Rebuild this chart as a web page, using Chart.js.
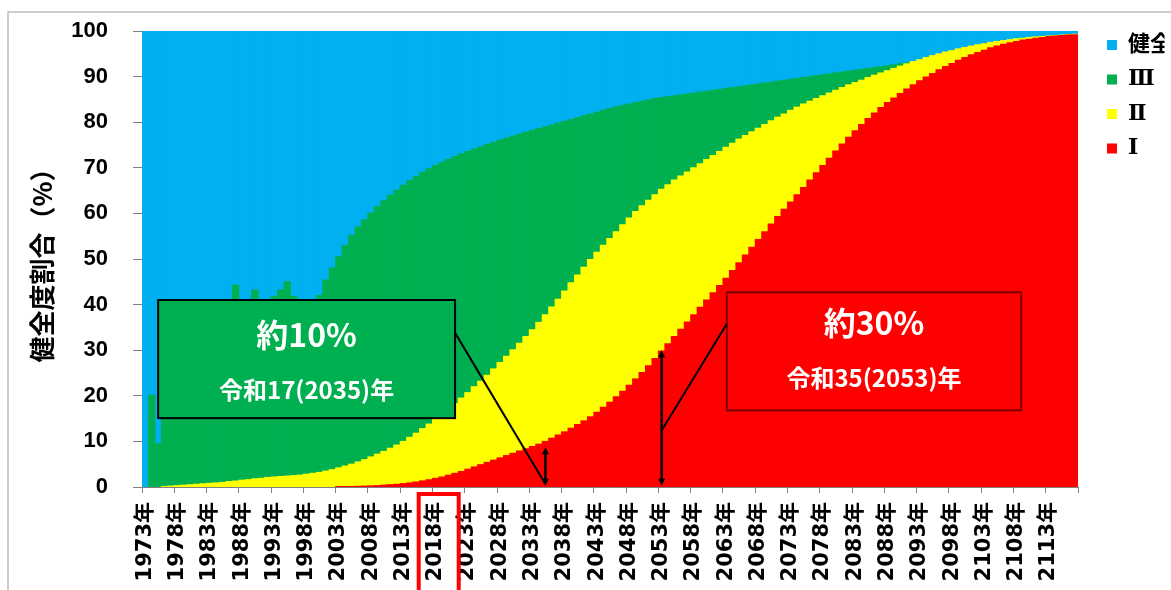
<!DOCTYPE html>
<html><head><meta charset="utf-8">
<script src="https://cdn.jsdelivr.net/npm/chart.js@4"></script>
<style>html,body{margin:0;padding:0;background:#fff}#wrap{position:relative;width:1171px;height:590px}</style>
</head><body><div id="wrap"><canvas id="c" width="1171" height="590"></canvas></div>
<script>
const years = [
1973,1974,1975,1976,1977,1978,1979,1980,1981,1982,
1983,1984,1985,1986,1987,1988,1989,1990,1991,1992,
1993,1994,1995,1996,1997,1998,1999,2000,2001,2002,
2003,2004,2005,2006,2007,2008,2009,2010,2011,2012,
2013,2014,2015,2016,2017,2018,2019,2020,2021,2022,
2023,2024,2025,2026,2027,2028,2029,2030,2031,2032,
2033,2034,2035,2036,2037,2038,2039,2040,2041,2042,
2043,2044,2045,2046,2047,2048,2049,2050,2051,2052,
2053,2054,2055,2056,2057,2058,2059,2060,2061,2062,
2063,2064,2065,2066,2067,2068,2069,2070,2071,2072,
2073,2074,2075,2076,2077,2078,2079,2080,2081,2082,
2083,2084,2085,2086,2087,2088,2089,2090,2091,2092,
2093,2094,2095,2096,2097,2098,2099,2100,2101,2102,
2103,2104,2105,2106,2107,2108,2109,2110,2111,2112,
2113,2114,2115,2116,2117];

const tickLabels = ['1973年','1978年','1983年','1988年','1993年','1998年','2003年','2008年','2013年','2018年','2023年','2028年','2033年','2038年','2043年','2048年','2053年','2058年','2063年','2068年','2073年','2078年','2083年','2088年','2093年','2098年','2103年','2108年','2113年'];

const seriesNames = ['Ⅰ','Ⅱ','Ⅲ','健全'];
const seriesColors = ['#FF0000','#FFFF00','#00B050','#00B0F0'];

// Upper edge of level I (%)
const levelI = [
0,0,0,0,0,0,0,0,0,0,
0,0,0,0,0,0,0,0,0,0,
0,0,0,0,0,0,0,0,0,0,
0.05,0.1,0.1,0.15,0.2,0.25,0.3,0.4,0.5,0.6,
0.75,0.9,1.1,1.35,1.6,1.9,2.2,2.6,3.0,3.4,
3.9,4.4,4.9,5.4,5.9,6.4,6.9,7.4,7.9,8.4,
8.9,9.4,10.0,10.7,11.4,12.1,12.9,13.7,14.5,15.4,
16.4,17.5,18.6,19.8,21.0,22.3,23.7,25.1,26.6,28.2,
29.8,31.4,33.0,34.6,36.2,37.8,39.4,41.0,42.6,44.2,
45.8,47.5,49.2,50.9,52.6,54.3,56.0,57.7,59.3,60.9,
62.5,64.1,65.7,67.3,68.9,70.5,72.1,73.7,75.2,76.7,
78.1,79.5,80.8,82.0,83.2,84.3,85.3,86.3,87.3,88.2,
89.1,89.9,90.7,91.5,92.2,92.9,93.6,94.2,94.8,95.3,
95.8,96.3,96.7,97.1,97.4,97.7,98.0,98.2,98.4,98.6,
98.8,98.9,99.0,99.1,99.2];

// Upper edge of level II (I + II, %)
const levelIandII = [
0,0,0,0.1,0.2,0.3,0.4,0.5,0.6,0.7,
0.8,0.9,1.0,1.2,1.3,1.5,1.6,1.8,1.9,2.1,
2.2,2.3,2.4,2.5,2.6,2.8,3.0,3.2,3.5,3.8,
4.2,4.6,5.0,5.5,6.0,6.6,7.2,7.8,8.5,9.2,
10.0,10.9,11.8,12.8,13.8,14.9,16.0,17.1,18.3,19.5,
20.7,22.0,23.2,24.5,25.9,27.3,28.7,30.1,31.5,33.0,
34.5,36.1,37.8,39.5,41.2,43.0,44.8,46.5,48.2,49.9,
51.5,53.0,54.5,56.0,57.5,59.0,60.4,61.7,62.9,64.1,
65.3,66.3,67.3,68.2,69.1,70.0,70.9,71.8,72.7,73.6,
74.5,75.4,76.3,77.1,77.9,78.7,79.5,80.3,81.1,81.8,
82.6,83.3,84.0,84.6,85.2,85.8,86.4,87.0,87.6,88.2,
88.7,89.2,89.8,90.3,90.8,91.3,91.8,92.3,92.8,93.3,
93.7,94.2,94.6,95.0,95.4,95.7,96.1,96.4,96.7,97.0,
97.2,97.5,97.7,97.9,98.1,98.3,98.4,98.6,98.7,98.8,
98.9,99.0,99.1,99.2,99.3];

// Upper edge of level III (I + II + III, %); the rest is 健全
const levelIthroughIII = [
0,20.1,9.5,24.5,21.9,22.3,23.4,31.8,36.6,31.5,
33.7,35.9,35.9,40.2,44.3,32.9,40.2,43.2,41.0,41.0,
41.7,43.2,45.0,41.8,40.5,40.2,38.8,42.0,45.4,48.0,
50.5,53.0,55.2,57.0,58.6,60.1,61.5,62.8,64.0,65.1,
66.2,67.2,68.1,69.0,69.8,70.5,71.2,71.9,72.5,73.1,
73.6,74.1,74.6,75.1,75.6,76.1,76.5,77.0,77.4,77.8,
78.2,78.6,79.0,79.4,79.8,80.2,80.6,81.0,81.4,81.8,
82.2,82.6,83.0,83.4,83.7,84.0,84.3,84.6,84.9,85.2,
85.4,85.6,85.8,86.0,86.2,86.4,86.6,86.8,87.0,87.2,
87.4,87.6,87.8,88.0,88.2,88.4,88.6,88.8,89.0,89.2,
89.4,89.6,89.8,90.0,90.2,90.4,90.6,90.8,91.0,91.2,
91.4,91.6,91.8,92.0,92.2,92.4,92.6,92.8,93.0,93.3,
93.7,94.2,94.6,95.0,95.4,95.7,96.1,96.4,96.7,97.0,
97.2,97.5,97.7,97.9,98.1,98.3,98.4,98.6,98.7,98.8,
98.9,99.0,99.1,99.2,99.3];

// Callout annotations (years / % values)
const callouts = [
  {box:{x0:1975.0,x1:2021.0,y0:41.0,y1:15.1}, fill:'#00B050', stroke:'#000000',
   title:'約10%', sub:'令和17(2035)年', titleY:33.4, subY:21.3,
   arrowYear:2035, arrowTop:8.7, lineFrom:{year:2021.0, v:33.8}, lineTo:{year:2035, v:0.6}},
  {box:{x0:2063.1,x1:2108.7,y0:42.7,y1:16.8}, fill:'#FF0000', stroke:'#7A0000',
   title:'約30%', sub:'令和35(2053)年', titleY:35.9, subY:23.9,
   arrowYear:2053, arrowTop:30.0, lineFrom:{year:2053, v:12.4}, lineTo:{year:2063.1, v:35.8}}
];
const highlightYear = 2018;

const layerI = levelI.slice();
const layerII = levelIandII.map((v,i) => v - levelI[i]);
const layerIII = levelIthroughIII.map((v,i) => v - levelIandII[i]);
const layerHealthy = levelIthroughIII.map(v => 100 - v);
const clean = a => a.map(v => (v > 0.0001 ? Math.round(v*100)/100 : null));
const layers = [layerI, layerII, layerIII, layerHealthy];

const overlay = {
  id: 'overlay',
  beforeDraw(chart) {
    const ctx = chart.ctx;
    ctx.save();
    ctx.strokeStyle = '#BDBDBD'; ctx.lineWidth = 1.5;
    ctx.beginPath(); ctx.moveTo(8, chart.height); ctx.lineTo(8, 12); ctx.lineTo(chart.width, 12); ctx.stroke();
    ctx.restore();
  },
  afterLayout(chart) {
    const lg = chart.legend;
    if (!lg) return;
    const dx = chart.chartArea.right + 16.5 - lg.left;
    const dy = chart.chartArea.top - 9.5 - lg.top;
    lg.left += dx; lg.right += dx; lg.top += dy; lg.bottom += dy;
  },
  afterDraw(chart) {
    const {ctx, scales:{x, y}, chartArea} = chart;
    const px = yr => x.getPixelForValue(yr - years[0]);
    const tri = (cx, tipY, dir) => {
      ctx.beginPath(); ctx.moveTo(cx, tipY); ctx.lineTo(cx - 3.5, tipY - dir*7); ctx.lineTo(cx + 3.5, tipY - dir*7); ctx.closePath(); ctx.fill();
    };
    ctx.save();
    callouts.forEach(c => {
      const L = px(c.box.x0), R = px(c.box.x1), T = y.getPixelForValue(c.box.y0), B = y.getPixelForValue(c.box.y1);
      ctx.fillStyle = c.fill; ctx.fillRect(L, T, R-L, B-T);
      ctx.strokeStyle = c.stroke; ctx.lineWidth = 2; ctx.strokeRect(L, T, R-L, B-T);
      ctx.fillStyle = '#FFFFFF'; ctx.textAlign = 'center'; ctx.textBaseline = 'middle';
      ctx.font = 'bold 32px "Noto Sans CJK JP", sans-serif';
      ctx.fillText(c.title, (L+R)/2, y.getPixelForValue(c.titleY));
      ctx.font = 'bold 24px "Noto Sans CJK JP", sans-serif';
      ctx.fillText(c.sub, (L+R)/2, y.getPixelForValue(c.subY));
      ctx.strokeStyle = '#000000'; ctx.lineWidth = 2;
      ctx.beginPath();
      ctx.moveTo(px(c.lineFrom.year), y.getPixelForValue(c.lineFrom.v));
      ctx.lineTo(px(c.lineTo.year), y.getPixelForValue(c.lineTo.v));
      ctx.stroke();
      const ax = px(c.arrowYear), a0 = y.getPixelForValue(0.3), a1 = y.getPixelForValue(c.arrowTop);
      ctx.lineWidth = 2.5;
      ctx.beginPath(); ctx.moveTo(ax, a0 - 4); ctx.lineTo(ax, a1 + 4); ctx.stroke();
      ctx.fillStyle = '#000000';
      tri(ax, a1, -1); tri(ax, a0, 1);
    });
    const hx = px(highlightYear) + 3;
    ctx.strokeStyle = '#FF0000'; ctx.lineWidth = 4;
    ctx.strokeRect(hx - 20, chartArea.bottom + 7, 40, 130);
    ctx.restore();
  }
};

new Chart(document.getElementById('c'), {
  type: 'bar',
  data: {
    labels: years.map(v => v + '年'),
    datasets: seriesNames.map((name, k) => ({
      label: name,
      data: clean(layers[k]),
      backgroundColor: seriesColors[k],
      borderWidth: 0,
      barPercentage: 1,
      categoryPercentage: 1,
      inflateAmount: 0.5
    }))
  },
  options: {
    responsive: false,
    animation: false,
    devicePixelRatio: 1,
    layout: { padding: { top: 31, right: 23, bottom: 0, left: 0 } },
    plugins: {
      tooltip: { enabled: false },
      legend: {
        position: 'right', align: 'start', reverse: true, maxWidth: 70,
        labels: {
          usePointStyle: true, pointStyle: 'rect', boxWidth: 10, boxHeight: 10, padding: 12.5,
          color: '#000000',
          font: { family: '"DejaVu Serif", "Noto Sans CJK JP", serif', size: 22, weight: 'bold' }
        }
      }
    },
    scales: {
      x: {
        stacked: true, offset: true,
        grid: {
          offset: true, drawOnChartArea: false, drawTicks: true, tickLength: 6, lineWidth: 1,
          color: ctx => ((ctx.index === undefined || ctx.index % 5 === 0) ? '#7F7F7F' : 'rgba(0,0,0,0)')
        },
        border: { display: true, color: '#7F7F7F', width: 1 },
        ticks: {
          autoSkip: false, maxRotation: 90, minRotation: 90, padding: 9, color: '#000000',
          font: { family: '"DejaVu Sans", "Noto Sans CJK JP", sans-serif', size: 21, weight: 'bold' },
          callback: function(value, index) { const lab = years[index] + '年'; return tickLabels.includes(lab) ? lab : ''; }
        },
        afterFit: s => { s.height = 103; s.paddingLeft = 0; s.paddingRight = 0; }
      },
      y: {
        stacked: true, min: 0, max: 100,
        ticks: { stepSize: 10, padding: 25, color: '#000000',
          font: { family: '"Liberation Sans", Arial, sans-serif', size: 22, weight: 'bold' } },
        grid: { drawOnChartArea: false, tickLength: 9, color: '#7F7F7F' },
        border: { display: true, color: '#7F7F7F' },
        title: { display: true, text: '健全度割合（%）', color: '#000000',
          font: { family: '"Noto Sans CJK JP", sans-serif', size: 26, weight: 'bold' },
          padding: { top: 27, bottom: 0 } },
        afterFit: s => { s.width = 142; s.paddingTop = 0; s.paddingBottom = 0; }
      }
    }
  },
  plugins: [overlay]
});
</script></body></html>
